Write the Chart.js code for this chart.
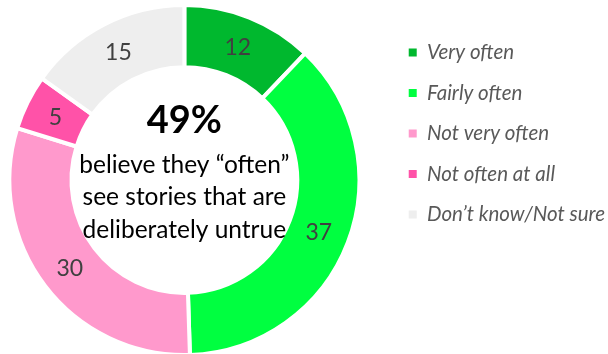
<!DOCTYPE html>
<html>
<head>
<meta charset="utf-8">
<script src="https://cdn.jsdelivr.net/npm/chart.js@4/dist/chart.umd.min.js"></script>
<style>
  html, body { margin: 0; padding: 0; background: #fff; overflow: hidden; }
  /* canvas is a bit larger than the page so the ring sits where it does in the original */
  #wrap { width: 628px; height: 360px; margin-left: -20px; }
</style>
</head>
<body>
<div id="wrap"><canvas id="chart"></canvas></div>
<script>
// data
const categories = ['Very often', 'Fairly often', 'Not very often', 'Not often at all', 'Don\u2019t know/Not sure'];
const values = [12, 37, 30, 5, 15];
const colors = ['#00B82E', '#00FF40', '#FF99CC', '#FF52A8', '#EEEEEE'];
const centerTitle = '49%';
const centerLines = ['believe they \u201coften\u201d', 'see stories that are', 'deliberately untrue'];

const fontFamily = 'Lato, "Open Sans", sans-serif';

// numbers inside each slice
const sliceLabels = {
    id: 'sliceLabels',
    afterDatasetsDraw(chart) {
        const ctx = chart.ctx;
        const meta = chart.getDatasetMeta(0);
        ctx.save();
        ctx.font = '23px ' + fontFamily;
        ctx.fillStyle = '#404040';
        ctx.textAlign = 'center';
        ctx.textBaseline = 'middle';
        meta.data.forEach((arc, i) => {
            const p = arc.getCenterPoint();
            ctx.fillText(String(values[i]), p.x, p.y + 1);
        });
        ctx.restore();
    }
};

// text in the hole
const centerText = {
    id: 'centerText',
    afterDraw(chart) {
        const ctx = chart.ctx;
        const arc = chart.getDatasetMeta(0).data[0];
        const cx = arc.x, cy = arc.y;
        ctx.save();
        ctx.textAlign = 'center';
        ctx.textBaseline = 'middle';
        ctx.fillStyle = '#000';
        ctx.font = 'bold 38px ' + fontFamily;
        ctx.fillText(centerTitle, cx, cy - 59);
        ctx.font = '24.5px ' + fontFamily;
        centerLines.forEach((line, i) => {
            ctx.fillText(line, cx, cy - 15 + i * 32.5);
        });
        ctx.restore();
    }
};

const defaultLabels = Chart.overrides.doughnut.plugins.legend.labels.generateLabels;

new Chart(document.getElementById('chart'), {
    type: 'doughnut',
    data: {
        labels: categories,
        datasets: [{
            data: values,
            backgroundColor: colors,
            borderColor: '#ffffff',
            borderWidth: 4,
            hoverOffset: 0
        }]
    },
    options: {
        responsive: true,
        maintainAspectRatio: false,
        animation: false,
        cutout: '64.5%',
        layout: { padding: { top: 3, bottom: 3, left: 0, right: -7 } },
        plugins: {
            tooltip: { enabled: false },
            legend: {
                position: 'right',
                align: 'start',
                title: { display: true, text: '', font: { size: 1 }, padding: { top: 18, bottom: 0 } },
                labels: {
                    boxWidth: 8,
                    boxHeight: 8,
                    padding: 20,
                    color: '#595959',
                    font: { family: fontFamily, size: 20.5, style: 'italic' },
                    // no white outline on the little squares
                    generateLabels: (chart) => defaultLabels(chart).map(l => ({ ...l, lineWidth: 0 }))
                }
            }
        }
    },
    plugins: [sliceLabels, centerText]
});
</script>
</body>
</html>
